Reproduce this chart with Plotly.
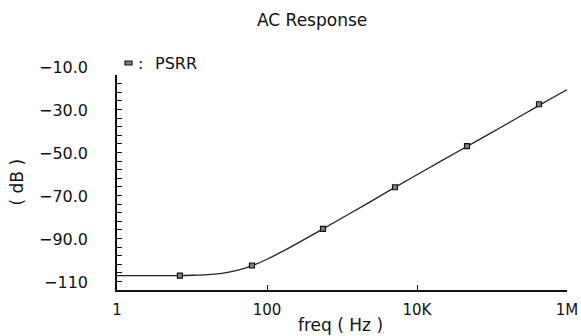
import plotly.graph_objects as go

# PSRR curve
freq_hz = [1, 2, 5, 10, 20, 30, 50, 70, 100, 200, 500, 1e3, 2e3, 5e3,
           1e4, 2e4, 5e4, 1e5, 2e5, 5e5, 1e6]
psrr_db = [-103.35, -103.34, -103.3, -103.15, -102.6, -101.8, -99.9, -98.1,
           -95.7, -90.3, -82.5, -76.5, -70.5, -62.4, -56.4, -50.4, -42.6,
           -36.7, -30.7, -22.7, -16.9]

# Cadence-style markers placed along the trace
marker_hz = [6.9, 63, 558, 5090, 46400, 423000]
marker_db = [-103.3, -98.6, -81.6, -62.2, -43.1, -23.6]

x_tickvals = [1, 100, 1e4, 1e6]
x_ticktext = ["1", "100", "10K", "1M"]
y_tickvals = [-110, -90, -70, -50, -30, -10]
y_ticktext = ["\u2212110", "\u221290.0", "\u221270.0", "\u221250.0", "\u221230.0", "\u221210.0"]

FONT = "DejaVu Sans"
INK = "#111111"

fig = go.Figure()
fig.add_trace(go.Scatter(x=freq_hz, y=psrr_db, mode="lines",
                         line=dict(color="#222222", width=1.3, shape="spline"),
                         name="PSRR", showlegend=False, hoverinfo="skip"))
fig.add_trace(go.Scatter(x=marker_hz, y=marker_db, mode="markers",
                         marker=dict(symbol="square", size=5, color="#808080",
                                     line=dict(color=INK, width=1.2)),
                         showlegend=False, hoverinfo="skip"))

fig.update_layout(
    template="none",
    width=581, height=336,
    margin=dict(l=117, r=14, t=75, b=46, autoexpand=False),
    paper_bgcolor="white", plot_bgcolor="white",
    font=dict(family=FONT, size=15, color=INK),
    xaxis=dict(type="log", range=[0, 6], tickvals=x_tickvals, ticktext=x_ticktext,
               ticks="inside", ticklen=5, tickcolor=INK, tickwidth=1,
               showline=True, linecolor=INK, linewidth=1.5,
               showgrid=False, zeroline=False, mirror=False, automargin=False,
               ticklabelstandoff=5,
               tickfont=dict(family=FONT, size=15)),
    yaxis=dict(range=[-110, -10], tickvals=y_tickvals, ticktext=y_ticktext,
               ticks="inside", ticklen=5, tickcolor=INK, tickwidth=1,
               minor=dict(tick0=-110, dtick=4, ticks="inside", ticklen=5,
                          tickcolor=INK, tickwidth=1, showgrid=False),
               showline=True, linecolor=INK, linewidth=1.5,
               showgrid=False, zeroline=False, automargin=False,
               ticklabelstandoff=24, ticklabelshift=-8,
               tickfont=dict(family=FONT, size=16)),
    annotations=[
        dict(text="AC Response", xref="paper", yref="paper", x=0, xshift=195, y=1.0,
             yshift=55, xanchor="center", yanchor="middle", showarrow=False,
             font=dict(family=FONT, size=17)),
        dict(text="freq ( Hz )", xref="paper", yref="paper", x=0, xshift=223, y=0,
             yshift=-35, xanchor="center", yanchor="middle", showarrow=False,
             font=dict(family=FONT, size=17)),
        dict(text="( dB )", xref="paper", yref="paper", x=0, xshift=-101, y=0.5,
             textangle=-90, xanchor="center", yanchor="middle", showarrow=False,
             font=dict(family=FONT, size=17)),
        dict(text=":", xref="paper", yref="paper", x=0, xshift=19, y=1.0,
             yshift=12, xanchor="left", yanchor="middle", showarrow=False,
             font=dict(family=FONT, size=16)),
        dict(text="PSRR", xref="paper", yref="paper", x=0, xshift=36, y=1.0,
             yshift=12, xanchor="left", yanchor="middle", showarrow=False,
             font=dict(family=FONT, size=16)),
    ],
    shapes=[
        dict(type="rect", xref="paper", yref="paper",
             xsizemode="pixel", ysizemode="pixel", xanchor=0, yanchor=1,
             x0=8, x1=15, y0=10, y1=14,
             line=dict(color=INK, width=1.2), fillcolor="#808080"),
    ],
)

fig.write_html("out.html",
               config={"displayModeBar": False},
               post_script="document.body.style.margin='0px';"
                           "document.body.style.padding='0px';")
